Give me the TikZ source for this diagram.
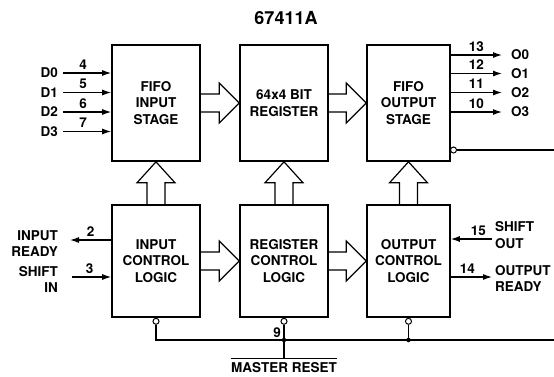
\documentclass[tikz,border=0pt]{standalone}
\usepackage{fontspec}
\setmainfont{TeX Gyre Heros}
\usetikzlibrary{arrows.meta,calc}
\newcommand\myharrow[2]{%
  \draw[barrow] ($(#1.east)+(0,-9)$) -- ($(#2.west)+(-20,-9)$) -- ($(#2.west)+(-20,-20)$) -- (#2.west) -- ($(#2.west)+(-20,20)$) -- ($(#2.west)+(-20,9)$) -- ($(#1.east)+(0,9)$);}
\newcommand\myvarrow[2]{%
  \draw[barrow] ($(#1.north)+(-9,0)$) -- ($(#2.south)+(-9,21)$) -- ($(#2.south)+(-19,21)$) -- (#2.south) -- ($(#2.south)+(19,21)$) -- ($(#2.south)+(9,21)$) -- ($(#1.north)+(9,0)$);}
\begin{document}
\begin{tikzpicture}[x=1pt,y=-1pt,
  every node/.style={font=\fontsize{13.5}{16.5}\selectfont\bfseries, inner sep=0pt},
  blk/.style={draw, line width=1.6pt, align=center, minimum width=88pt},
  pin/.style={line width=1.2pt, -{Latex[length=9pt,width=6pt]}},
  wire/.style={line width=1.2pt},
  barrow/.style={line width=1.2pt, line join=miter},
  bubble/.style={circle, draw, fill=white, line width=1pt, minimum size=6pt, inner sep=0pt},
  dot/.style={circle, fill, minimum size=4.5pt, inner sep=0pt}]
\useasboundingbox (0,0) rectangle (554,376);

\node (title) at (286,18) {\fontsize{18}{20}\selectfont 67411A};

% blocks
\node[blk, minimum height=116pt] (b1) at (156,103) {FIFO\\INPUT\\STAGE};
\node[blk, minimum height=116pt] (b2) at (284,103) {64x4 BIT\\REGISTER};
\node[blk, minimum height=116pt, minimum width=83pt] (b3) at (408.5,103) {FIFO\\OUTPUT\\STAGE};
\node[blk, minimum height=112pt] (b4) at (156,261) {INPUT\\CONTROL\\LOGIC};
\node[blk, minimum height=112pt] (b5) at (284,261) {REGISTER\\CONTROL\\LOGIC};
\node[blk, minimum height=112pt, minimum width=83pt] (b6) at (408.5,261) {OUTPUT\\CONTROL\\LOGIC};

% block arrows
\myharrow{b1}{b2}
\myharrow{b2}{b3}
\myharrow{b4}{b5}
\myharrow{b5}{b6}
\myvarrow{b4}{b1}
\myvarrow{b5}{b2}
\myvarrow{b6}{b3}

% data inputs
\node[anchor=east] (d0) at (58,73) {D0};
\node[anchor=east] (d1) at (58,92.5) {D1};
\node[anchor=east] (d2) at (58,112) {D2};
\node[anchor=east] (d3) at (58,131.5) {D3};
\draw[pin] ([xshift=5pt]d0.east) -- (d0.east -| b1.west) node[pos=0.42, above=3pt] {4};
\draw[pin] ([xshift=5pt]d1.east) -- (d1.east -| b1.west) node[pos=0.42, above=3pt] {5};
\draw[pin] ([xshift=5pt]d2.east) -- (d2.east -| b1.west) node[pos=0.42, above=3pt] {6};
\draw[pin] ([xshift=5pt]d3.east) -- (d3.east -| b1.west) node[pos=0.42, above=3pt] {7};

% data outputs
\node[anchor=west] (o0) at (511,55) {O0};
\node[anchor=west] (o1) at (511,73.5) {O1};
\node[anchor=west] (o2) at (511,92.5) {O2};
\node[anchor=west] (o3) at (511,112) {O3};
\draw[pin] (o0.west -| b3.east) -- ([xshift=-9pt]o0.west) node[midway, above=3pt] {13};
\draw[pin] (o1.west -| b3.east) -- ([xshift=-9pt]o1.west) node[midway, above=3pt] {12};
\draw[pin] (o2.west -| b3.east) -- ([xshift=-9pt]o2.west) node[midway, above=3pt] {11};
\draw[pin] (o3.west -| b3.east) -- ([xshift=-9pt]o3.west) node[midway, above=3pt] {10};

% output enable bubble line
\node[bubble] (oc) at (453.5,150) {};
\coordinate (oce) at (554,150);
\draw[wire] (oc) -- (oce);

% control pins left
\node[anchor=east, align=right] (ir) at (58,243.5) {INPUT\\READY};
\coordinate (irt) at (70,240);
\draw[pin] (irt -| b4.west) -- (irt) node[midway, above=3pt] {2};
\node[anchor=east, align=right] (si) at (58,279.5) {SHIFT\\IN};
\coordinate (sis) at (72,277);
\draw[pin] (sis) -- (sis -| b4.west) node[pos=0.45, above=3pt] {3};

% control pins right
\node[anchor=west, align=left] (so) at (495,235) {SHIFT\\OUT};
\coordinate (sos) at (492,239);
\draw[pin] (sos) -- (sos -| b6.east) node[pos=0.33, above=3pt] {15};
\node[anchor=west, align=left] (ory) at (495,278.5) {OUTPUT\\READY};
\coordinate (ore) at (492,277);
\draw[pin] (ore -| b6.east) -- (ore) node[pos=0.4, above=3pt] {14};

% master reset
\node[bubble, anchor=north] (r1) at (b4.south) {};
\node[bubble, anchor=north] (r2) at (b5.south) {};
\node[bubble, anchor=north] (r3) at (b6.south) {};
\coordinate (k1) at (156,340);
\coordinate (k2) at (284,340);
\coordinate (k3) at (408.5,340);
\coordinate (kend) at (554,340);
\node (mr) at (284,368) {MASTER RESET};
\coordinate (mrt) at ([yshift=4pt]mr.north);
\draw[wire] ([yshift=4pt]mr.north west) -- ([yshift=4pt]mr.north east);
\draw[wire] (r1) -- (k1) -- (kend);
\draw[wire] (r2) -- (mrt);
\draw[wire] (r3) -- (k3);
\node[dot] at (k2) {};
\node[dot] at (k3) {};
\node[anchor=east] at ($(r2.south)!0.5!(k2)+(-3,0)$) {9};
\end{tikzpicture}
\end{document}
